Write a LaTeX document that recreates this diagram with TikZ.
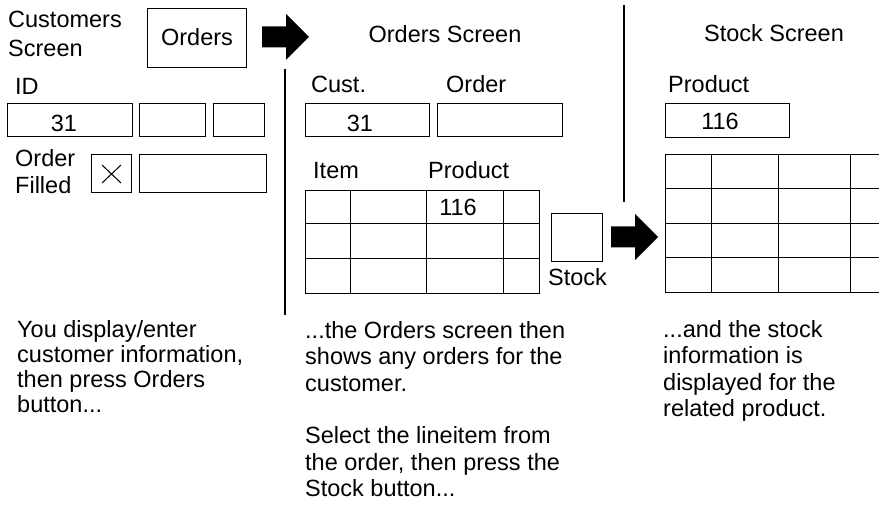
\documentclass[tikz,border=0pt]{standalone}
\usepackage{fontspec}
\setmainfont{Liberation Sans}
\tikzset{
  polje/.style={line width=1pt},
  locilo/.style={line width=1.3pt},
  blok/.style={fill=black},
  oznaka/.style={anchor=base west, inner sep=0pt, align=left,
    font=\fontsize{23.5pt}{26.5pt}\selectfont},
  sredina/.style={anchor=base, inner sep=0pt,
    font=\fontsize{23.5pt}{26.5pt}\selectfont},
}
\begin{document}
\begin{tikzpicture}[x=1pt, y=-1pt]
  \useasboundingbox (0,0) rectangle (879,518);
  % okno strank (večvrstične oznake so postavljene na zadnjo vrstico)
  \node [oznaka, font=\fontsize{23.5pt}{29pt}\selectfont] (custscreen) at (8,57) {Customers\\Screen};
  \draw [polje] (147,9) rectangle (246,68);
  \node [sredina] (ordersbtn) at (197,46) {Orders};
  \node [oznaka] (idlabel) at (15,95) {ID};
  \draw [polje] (7,104) rectangle (132,137);
  \draw [polje] (139,104) rectangle (205,137);
  \draw [polje] (213,104) rectangle (264,137);
  \node [sredina] (idval) at (64,132) {31};
  \node [oznaka, font=\fontsize{23.5pt}{27pt}\selectfont] (filledlabel) at (15,194) {Order\\Filled};
  \draw [polje] (91,155) rectangle (131,193);
  \draw [polje] (102,165) -- (121,183) (102,183) -- (121,165);
  \draw [polje] (139,155) rectangle (266,193);
  % puščici
  \fill [blok, shift={(262,37)}] (0,-10.5) -- (24,-10.5) -- (24,-23) -- (47,0)
        -- (24,23) -- (24,10.5) -- (0,10.5) -- cycle;
  \fill [blok, shift={(611,237)}] (0,-10.5) -- (24,-10.5) -- (24,-23) -- (47,0)
        -- (24,23) -- (24,10.5) -- (0,10.5) -- cycle;
  % ločilni črti
  \draw [locilo] (285,69) -- (285,315);
  \draw [locilo] (624,5) -- (624,202);
  % okno naročil
  \node [sredina] (ordscreen) at (445,43) {Orders Screen};
  \node [oznaka] (custlabel) at (311,93) {Cust.};
  \node [oznaka] (orderlabel) at (446,93) {Order};
  \draw [polje] (305,104) rectangle (429,137);
  \draw [polje] (437,104) rectangle (562,137);
  \node [sredina] (custval) at (360,132) {31};
  \node [oznaka] (itemlabel) at (313,179) {Item};
  \node [oznaka] (prodlabel) at (428,179) {Product};
  \draw [polje] (305,191) rectangle (539,294);
  \foreach \x in {350, 426, 503} \draw [polje] (\x,191) -- (\x,294);
  \foreach \y in {224, 259} \draw [polje] (305,\y) -- (539,\y);
  \node [sredina] (prodval) at (458,216) {116};
  \draw [polje] (551,214) rectangle (602,262);
  \node [oznaka] (stockbtn) at (548,286) {Stock};
  % okno zaloge
  \node [sredina] (stockscreen) at (774,42) {Stock Screen};
  \node [oznaka] (stockprod) at (668,93) {Product};
  \draw [polje] (665,104) rectangle (789,138);
  \node [sredina] (stockval) at (720,130) {116};
  \foreach \y in {155, 189, 224, 258, 293} \draw [polje] (665,\y) -- (879,\y);
  \foreach \x in {665, 711, 778, 850} \draw [polje] (\x,155) -- (\x,293);
  % besedila
  \node [oznaka, font=\fontsize{23.5pt}{25.3pt}\selectfont] (textleft) at (17,413)
        {You display/enter\\customer information,\\then press Orders\\button...};
  \node [oznaka] (textmid) at (305,497)
        {...the Orders screen then\\shows any orders for the\\customer.\\[26.5pt]Select the lineitem from\\the order, then press the\\Stock button...};
  \node [oznaka] (textright) at (663,417)
        {...and the stock\\information is\\displayed for the\\related product.};
\end{tikzpicture}
\end{document}
